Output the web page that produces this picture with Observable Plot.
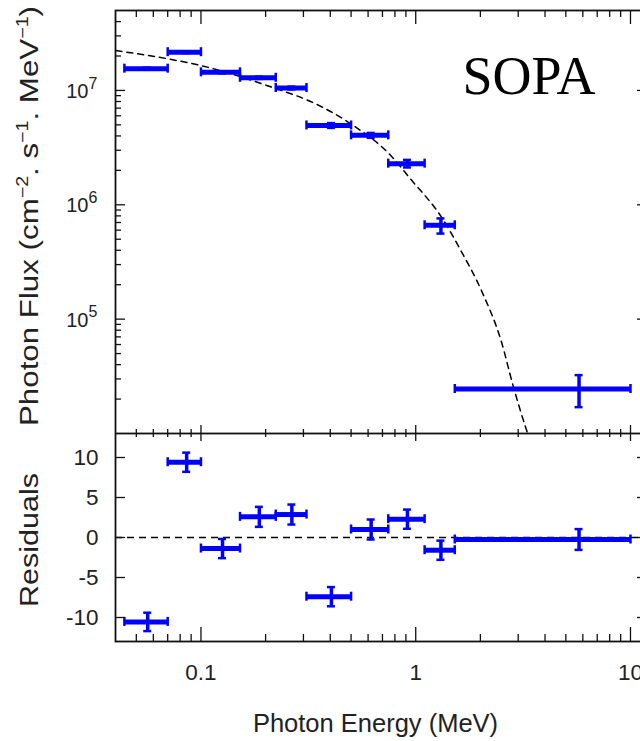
<!DOCTYPE html>
<html><head><meta charset="utf-8">
<script src="https://cdn.jsdelivr.net/npm/d3@7"></script>
<script src="https://cdn.jsdelivr.net/npm/@observablehq/plot@0.6"></script>
<style>
html,body{margin:0;padding:0;background:#fff;overflow:hidden;}
#chart{width:640px;height:741px;overflow:hidden;position:relative;background:#fff;}
#chart svg{display:block;}
</style></head><body><div id="chart"></div>
<script>
// ---- data ----
const binLo     = [0.044, 0.070, 0.100, 0.152, 0.223, 0.31, 0.50, 0.745, 1.10, 1.52];
const binHi     = [0.070, 0.100, 0.152, 0.223, 0.31, 0.50, 0.745, 1.10, 1.52, 10.0];
const binCenter = [0.0565, 0.0858, 0.126, 0.187, 0.265, 0.405, 0.62, 0.915, 1.31, 5.76];
const flux      = [1.55e7, 2.16e7, 1.44e7, 1.29e7, 1.05e7, 4.94e6, 4.05e6, 2.29e6, 6.62e5, 2.45e4];
const fluxLow   = [1.52e7, 2.12e7, 1.41e7, 1.26e7, 1.02e7, 4.70e6, 3.85e6, 2.12e6, 5.6e5, 1.70e4];
const fluxHigh  = [1.58e7, 2.20e7, 1.47e7, 1.32e7, 1.08e7, 5.18e6, 4.25e6, 2.47e6, 7.6e5, 3.24e4];
const residual  = [-10.55, 9.41, -1.38, 2.58, 2.87, -7.4, 1.0, 2.29, -1.59, -0.25];
const residErr  = [1.15, 1.2, 1.2, 1.25, 1.25, 1.2, 1.25, 1.2, 1.2, 1.3];
const modelE    = [0.0402, 0.070, 0.10, 0.204, 0.354, 0.499, 0.765, 0.944, 1.33, 1.62, 2.05, 2.49, 2.85, 3.24, 3.32];
const modelF    = [2.23e7, 1.89e7, 1.65e7, 1.10e7, 7.4e6, 5.1e6, 2.7e6, 1.69e6, 7.6e5, 4.0e5, 1.68e5, 6.6e4, 2.56e4, 1.15e4, 1.0e4];
const xMajorTicks = [0.1, 1, 10];
const xTickLabels = ["0.1", "1", "10"];
const xMinorTicks = [0.05,0.06,0.07,0.08,0.09,0.2,0.3,0.4,0.5,0.6,0.7,0.8,0.9,2,3,4,5,6,7,8,9];
const yMajorTop = [1e5, 1e6, 1e7];
const yMinorTop = [2e4,3e4,4e4,5e4,6e4,7e4,8e4,9e4,2e5,3e5,4e5,5e5,6e5,7e5,8e5,9e5,2e6,3e6,4e6,5e6,6e6,7e6,8e6,9e6,2e7,3e7,4e7];
const residTicks = [-10, -5, 0, 5, 10];
const panelLabel = "SOPA";
const xLabel = "Photon Energy (MeV)";
const residLabel = "Residuals";

// ---- font availability ----
function hasFont(name){
  const c = document.createElement("canvas").getContext("2d");
  const t = "0.1 -10 Photon Energy";
  c.font = "40px monospace"; const a = c.measureText(t).width;
  c.font = `40px '${name}', monospace`; const b = c.measureText(t).width;
  return Math.abs(a - b) > 0.5;
}
const narrow = hasFont("Liberation Sans Narrow");
const tickFont = narrow ? "'Liberation Sans Narrow'" : "'Liberation Sans', Arial, sans-serif";
const sansFont = "'Liberation Sans', Arial, sans-serif";
const tickFS = narrow ? 26.5 : 22.5;
const topTickFS = narrow ? 24 : 20;

const pts = binLo.map((lo, i) => ({lo, hi: binHi[i], xc: binCenter[i], f: flux[i], fLo: fluxLow[i], fHi: fluxHigh[i],
  r: residual[i], rLo: residual[i] - residErr[i], rHi: residual[i] + residErr[i]}));
const model = modelE.map((e, i) => ({e, f: modelF[i]}));

const W = 660, ML = 115, MR = 13;
const FW = W - ML - MR;
const BLUE = "#0000ff", INK = "#111";
const TW = 1.3;

function errMarks(yk, yLo, yHi){
  return [
    Plot.ruleY(pts, {y: yk, x1: "lo", x2: "hi", stroke: BLUE, strokeWidth: 5}),
    Plot.ruleX(pts, {x: "lo", y1: yk, y2: yk, insetTop: -4.5, insetBottom: -4.5, stroke: BLUE, strokeWidth: 2.5}),
    Plot.ruleX(pts, {x: "hi", y1: yk, y2: yk, insetTop: -4.5, insetBottom: -4.5, stroke: BLUE, strokeWidth: 2.5}),
    Plot.ruleX(pts, {x: "xc", y1: yLo, y2: yHi, stroke: BLUE, strokeWidth: 3.5}),
    Plot.ruleY(pts, {y: yLo, x1: "xc", x2: "xc", insetLeft: -4, insetRight: -4, stroke: BLUE, strokeWidth: 2.5}),
    Plot.ruleY(pts, {y: yHi, x1: "xc", x2: "xc", insetLeft: -4, insetRight: -4, stroke: BLUE, strokeWidth: 2.5})
  ];
}

// ---- top panel ----
const topH = 433, topMT = 10, topFH = topH - topMT;
const topChart = Plot.plot({
  width: W, height: topH, marginLeft: ML, marginRight: MR, marginTop: topMT, marginBottom: 0,
  style: {maxWidth: "none", background: "white", overflow: "hidden"},
  x: {type: "log", domain: [0.04, 12], axis: null},
  y: {type: "log", domain: [1e4, 5e7], axis: null},
  marks: [
    Plot.line(model, {x: "e", y: "f", stroke: "black", strokeWidth: 1.5, strokeDasharray: "6,5", curve: "monotone-x", clip: true}),
    ...errMarks("f", "fLo", "fHi"),
    Plot.tickX(xMinorTicks, {x: d => d, insetBottom: topFH - 7, stroke: INK, strokeWidth: TW}),
    Plot.tickX(xMajorTicks, {x: d => d, insetBottom: topFH - 14, stroke: INK, strokeWidth: TW}),
    Plot.tickX(xMinorTicks, {x: d => d, insetTop: topFH - 4, stroke: INK, strokeWidth: TW}),
    Plot.tickX(xMajorTicks, {x: d => d, insetTop: topFH - 8, stroke: INK, strokeWidth: TW}),
    Plot.tickY(yMinorTop, {y: d => d, insetRight: FW - 6, stroke: INK, strokeWidth: TW}),
    Plot.tickY(yMajorTop, {y: d => d, insetRight: FW - 10, stroke: INK, strokeWidth: TW}),
    Plot.tickY(yMinorTop, {y: d => d, insetLeft: FW - 4, stroke: INK, strokeWidth: TW}),
    Plot.tickY(yMajorTop, {y: d => d, insetLeft: FW - 10, stroke: INK, strokeWidth: TW}),
    Plot.frame({stroke: INK, strokeWidth: 1.8}),
    Plot.text(yMajorTop, {y: d => d, text: () => "10", frameAnchor: "left", textAnchor: "end", lineAnchor: "middle",
      dx: -27, dy: 1, fontSize: topTickFS, fontFamily: tickFont, fill: "#222"}),
    Plot.text(yMajorTop, {y: d => d, text: d => String(Math.round(Math.log10(d))), frameAnchor: "left", textAnchor: "end", lineAnchor: "middle",
      dx: -18, dy: -7, fontSize: 16, fontFamily: sansFont, fill: "#222"}),
    Plot.text([panelLabel], {text: d => d, frameAnchor: "top-right", textAnchor: "end", lineAnchor: "top",
      dx: -52, dy: 45, fontSize: 54, fontFamily: "'Liberation Serif', 'Times New Roman', serif", fill: "black"})
  ]
});

// ---- residual panel ----
const botH = 308, botFH = 208;
const botChart = Plot.plot({
  width: W, height: botH, marginLeft: ML, marginRight: MR, marginTop: 0, marginBottom: botH - botFH,
  style: {maxWidth: "none", background: "white", overflow: "hidden"},
  x: {type: "log", domain: [0.04, 12], axis: null},
  y: {domain: [-13, 13], axis: null},
  marks: [
    Plot.ruleY([0], {y: d => d, stroke: "black", strokeWidth: 1.5, strokeDasharray: "7,5"}),
    ...errMarks("r", "rLo", "rHi"),
    Plot.tickX(xMinorTicks, {x: d => d, insetBottom: botFH - 4, stroke: INK, strokeWidth: TW}),
    Plot.tickX(xMajorTicks, {x: d => d, insetBottom: botFH - 8, stroke: INK, strokeWidth: TW}),
    Plot.tickX(xMinorTicks, {x: d => d, insetTop: botFH - 7, stroke: INK, strokeWidth: TW}),
    Plot.tickX(xMajorTicks, {x: d => d, insetTop: botFH - 14, stroke: INK, strokeWidth: TW}),
    Plot.tickY(residTicks, {y: d => d, insetRight: FW - 10, stroke: INK, strokeWidth: TW}),
    Plot.tickY(residTicks, {y: d => d, insetLeft: FW - 10, stroke: INK, strokeWidth: TW}),
    Plot.frame({stroke: INK, strokeWidth: 1.8}),
    Plot.text(residTicks, {y: d => d, text: d => String(d), frameAnchor: "left", textAnchor: "end", lineAnchor: "middle",
      dx: -17, fontSize: tickFS, fontFamily: tickFont, fill: "#222"}),
    Plot.text(xMajorTicks, {x: d => d, text: (d, i) => xTickLabels[i], frameAnchor: "bottom", lineAnchor: "top",
      dy: 23, fontSize: tickFS, fontFamily: tickFont, fill: "#222"}),
    Plot.text([xLabel], {text: d => d, frameAnchor: "bottom", lineAnchor: "top", dx: -6, dy: 72,
      fontSize: 25.5, fontFamily: sansFont, fill: "#222"})
  ]
});

const chart = document.getElementById("chart");
chart.appendChild(topChart);
chart.appendChild(botChart);

// ---- rotated y labels with superscripts ----
const yl = d3.select(topChart).append("text")
  .attr("transform", "translate(38,216) rotate(-90)")
  .attr("text-anchor", "middle")
  .attr("font-family", sansFont)
  .attr("font-size", 25.5)
  .attr("fill", "#222");
const parts = [["Photon Flux (cm", 0], ["\u22122", 1], [". s", 0], ["\u22121", 1], [". MeV", 0], ["\u22121", 1], [")", 0]];
let prevSup = 0;
parts.forEach(([t, sup]) => {
  const dy = sup && !prevSup ? -10 : (!sup && prevSup ? 10 : 0);
  yl.append("tspan").attr("dy", dy).attr("font-size", sup ? 16 : 25.5).text(t);
  prevSup = sup;
});
yl.attr("textLength", 420).attr("lengthAdjust", "spacingAndGlyphs");

d3.select(botChart).append("text")
  .attr("transform", "translate(38,107) rotate(-90)")
  .attr("text-anchor", "middle")
  .attr("font-family", sansFont)
  .attr("font-size", 25.5)
  .attr("fill", "#222")
  .attr("textLength", 134).attr("lengthAdjust", "spacingAndGlyphs")
  .text(residLabel);
</script>
</body></html>
